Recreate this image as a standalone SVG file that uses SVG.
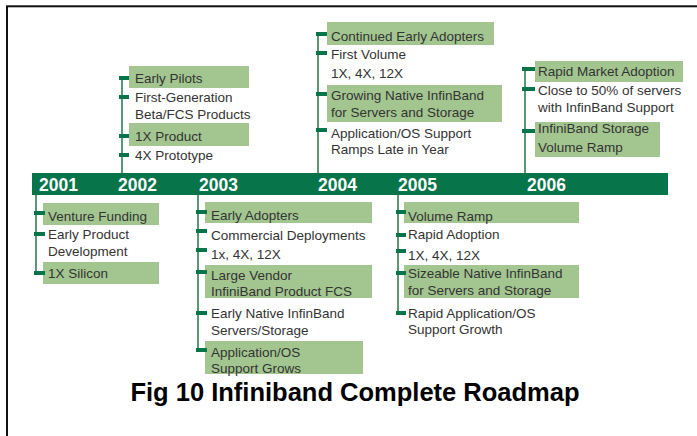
<svg xmlns="http://www.w3.org/2000/svg" width="697" height="436" viewBox="0 0 697 436">
<style>
.frame{fill:none;stroke:#111;stroke-width:2}
.bar{fill:#08744a}
.yr{font-family:"Liberation Sans",Arial,sans-serif;font-weight:bold;font-size:17.5px;fill:#fff}
.box{fill:#a3c690}
.tick{fill:#08744a}
.vl{stroke:#2f7d52;stroke-width:1.6;fill:none}
.tx{font-family:"Liberation Sans",Arial,sans-serif;font-size:13.5px;fill:#333}
.title{font-family:"Liberation Sans",Arial,sans-serif;font-weight:bold;font-size:25.5px;fill:#000;text-anchor:middle}
</style>
<rect class="frame" x="7" y="6.3" width="700" height="440"/>
<g id="connectors">
<line class="vl" x1="122" y1="76" x2="122" y2="173"/>
<line class="vl" x1="318" y1="32" x2="318" y2="173"/>
<line class="vl" x1="525" y1="67" x2="525" y2="173"/>
<line class="vl" x1="36" y1="195" x2="36" y2="275"/>
<line class="vl" x1="198" y1="195" x2="198" y2="352"/>
<line class="vl" x1="398" y1="195" x2="398" y2="315"/>
</g>
<g id="timeline">
<rect class="bar" x="32" y="173" width="636" height="22"/>
<text class="yr" x="39" y="191">2001</text>
<text class="yr" x="118" y="191">2002</text>
<text class="yr" x="199" y="191">2003</text>
<text class="yr" x="318" y="191">2004</text>
<text class="yr" x="398" y="191">2005</text>
<text class="yr" x="527" y="191">2006</text>
</g>
<g id="y2001">
<g id="n2001a"><rect class="box" x="43" y="203" width="116" height="22"/><rect class="tick" x="34" y="211" width="11" height="4"/><text class="tx" x="48" y="221">Venture Funding</text></g>
<g id="n2001b"><rect class="tick" x="34" y="232" width="11" height="4"/><text class="tx" x="48" y="239">Early Product</text><text class="tx" x="48" y="256">Development</text></g>
<g id="n2001c"><rect class="box" x="43" y="262" width="116" height="22"/><rect class="tick" x="34" y="271" width="11" height="4"/><text class="tx" x="48" y="278">1X Silicon</text></g>
</g>
<g id="y2002">
<g id="n2002a"><rect class="box" x="129" y="66" width="120" height="22"/><rect class="tick" x="119" y="76" width="10" height="4"/><text class="tx" x="135" y="83">Early Pilots</text></g>
<g id="n2002b"><rect class="tick" x="119" y="95" width="10" height="4"/><text class="tx" x="135" y="102">First-Generation</text><text class="tx" x="135" y="119">Beta/FCS Products</text></g>
<g id="n2002c"><rect class="box" x="129" y="123" width="120" height="23"/><rect class="tick" x="119" y="134" width="10" height="4"/><text class="tx" x="135" y="141">1X Product</text></g>
<g id="n2002d"><rect class="tick" x="119" y="153" width="10" height="4"/><text class="tx" x="135" y="160">4X Prototype</text></g>
</g>
<g id="y2003">
<g id="n2003a"><rect class="box" x="205" y="202" width="167" height="21"/><rect class="tick" x="196" y="210" width="11" height="4"/><text class="tx" x="211" y="220">Early Adopters</text></g>
<g id="n2003b"><rect class="tick" x="196" y="229" width="11" height="4"/><text class="tx" x="211" y="240">Commercial Deployments</text></g>
<g id="n2003c"><rect class="tick" x="196" y="248" width="11" height="4"/><text class="tx" x="211" y="259">1x, 4X, 12X</text></g>
<g id="n2003d"><rect class="box" x="205" y="265" width="167" height="33"/><rect class="tick" x="196" y="270" width="11" height="4"/><text class="tx" x="211" y="280">Large Vendor</text><text class="tx" x="211" y="296">InfiniBand Product FCS</text></g>
<g id="n2003e"><rect class="tick" x="196" y="311" width="11" height="4"/><text class="tx" x="211" y="318">Early Native InfinBand</text><text class="tx" x="211" y="335">Servers/Storage</text></g>
<g id="n2003f"><rect class="box" x="205" y="341" width="158" height="33"/><rect class="tick" x="196" y="348" width="11" height="4"/><text class="tx" x="211" y="357">Application/OS</text><text class="tx" x="211" y="373">Support Grows</text></g>
</g>
<g id="y2004">
<g id="n2004a"><rect class="box" x="327" y="22" width="167" height="23"/><rect class="tick" x="316" y="32" width="11" height="4"/><text class="tx" x="331" y="41">Continued Early Adopters</text></g>
<g id="n2004b"><rect class="tick" x="316" y="51" width="11" height="4"/><text class="tx" x="331" y="59">First Volume</text><text class="tx" x="331" y="78">1X, 4X, 12X</text></g>
<g id="n2004c"><rect class="box" x="327" y="85" width="175" height="37"/><rect class="tick" x="316" y="92" width="11" height="4"/><text class="tx" x="331" y="100">Growing Native InfinBand</text><text class="tx" x="331" y="117">for Servers and Storage</text></g>
<g id="n2004d"><rect class="tick" x="316" y="128" width="11" height="4"/><text class="tx" x="331" y="138">Application/OS Support</text><text class="tx" x="331" y="154">Ramps Late in Year</text></g>
</g>
<g id="y2005">
<g id="n2005a"><rect class="box" x="404" y="202" width="175" height="21"/><rect class="tick" x="396" y="210" width="10" height="4"/><text class="tx" x="408" y="221">Volume Ramp</text></g>
<g id="n2005b"><rect class="tick" x="396" y="233" width="10" height="4"/><text class="tx" x="408" y="239">Rapid Adoption</text></g>
<g id="n2005c"><rect class="tick" x="396" y="249" width="10" height="4"/><text class="tx" x="408" y="260">1X, 4X, 12X</text></g>
<g id="n2005d"><rect class="box" x="404" y="265" width="175" height="33"/><rect class="tick" x="396" y="271" width="10" height="4"/><text class="tx" x="408" y="278">Sizeable Native InfinBand</text><text class="tx" x="408" y="295">for Servers and Storage</text></g>
<g id="n2005e"><rect class="tick" x="396" y="311" width="10" height="4"/><text class="tx" x="408" y="318">Rapid Application/OS</text><text class="tx" x="408" y="334">Support Growth</text></g>
</g>
<g id="y2006">
<g id="n2006a"><rect class="box" x="535" y="61" width="148" height="21"/><rect class="tick" x="522" y="67" width="13" height="4"/><text class="tx" x="538" y="76">Rapid Market Adoption</text></g>
<g id="n2006b"><rect class="tick" x="522" y="87" width="13" height="4"/><text class="tx" x="538" y="95">Close to 50% of servers</text><text class="tx" x="538" y="112">with InfinBand Support</text></g>
<g id="n2006c"><rect class="box" x="535" y="122" width="125" height="35"/><rect class="tick" x="522" y="129" width="13" height="4"/><text class="tx" x="538" y="133">InfiniBand Storage</text><text class="tx" x="538" y="152">Volume Ramp</text></g>
</g>
<text class="title" x="355" y="401">Fig 10 Infiniband Complete Roadmap</text>
</svg>
